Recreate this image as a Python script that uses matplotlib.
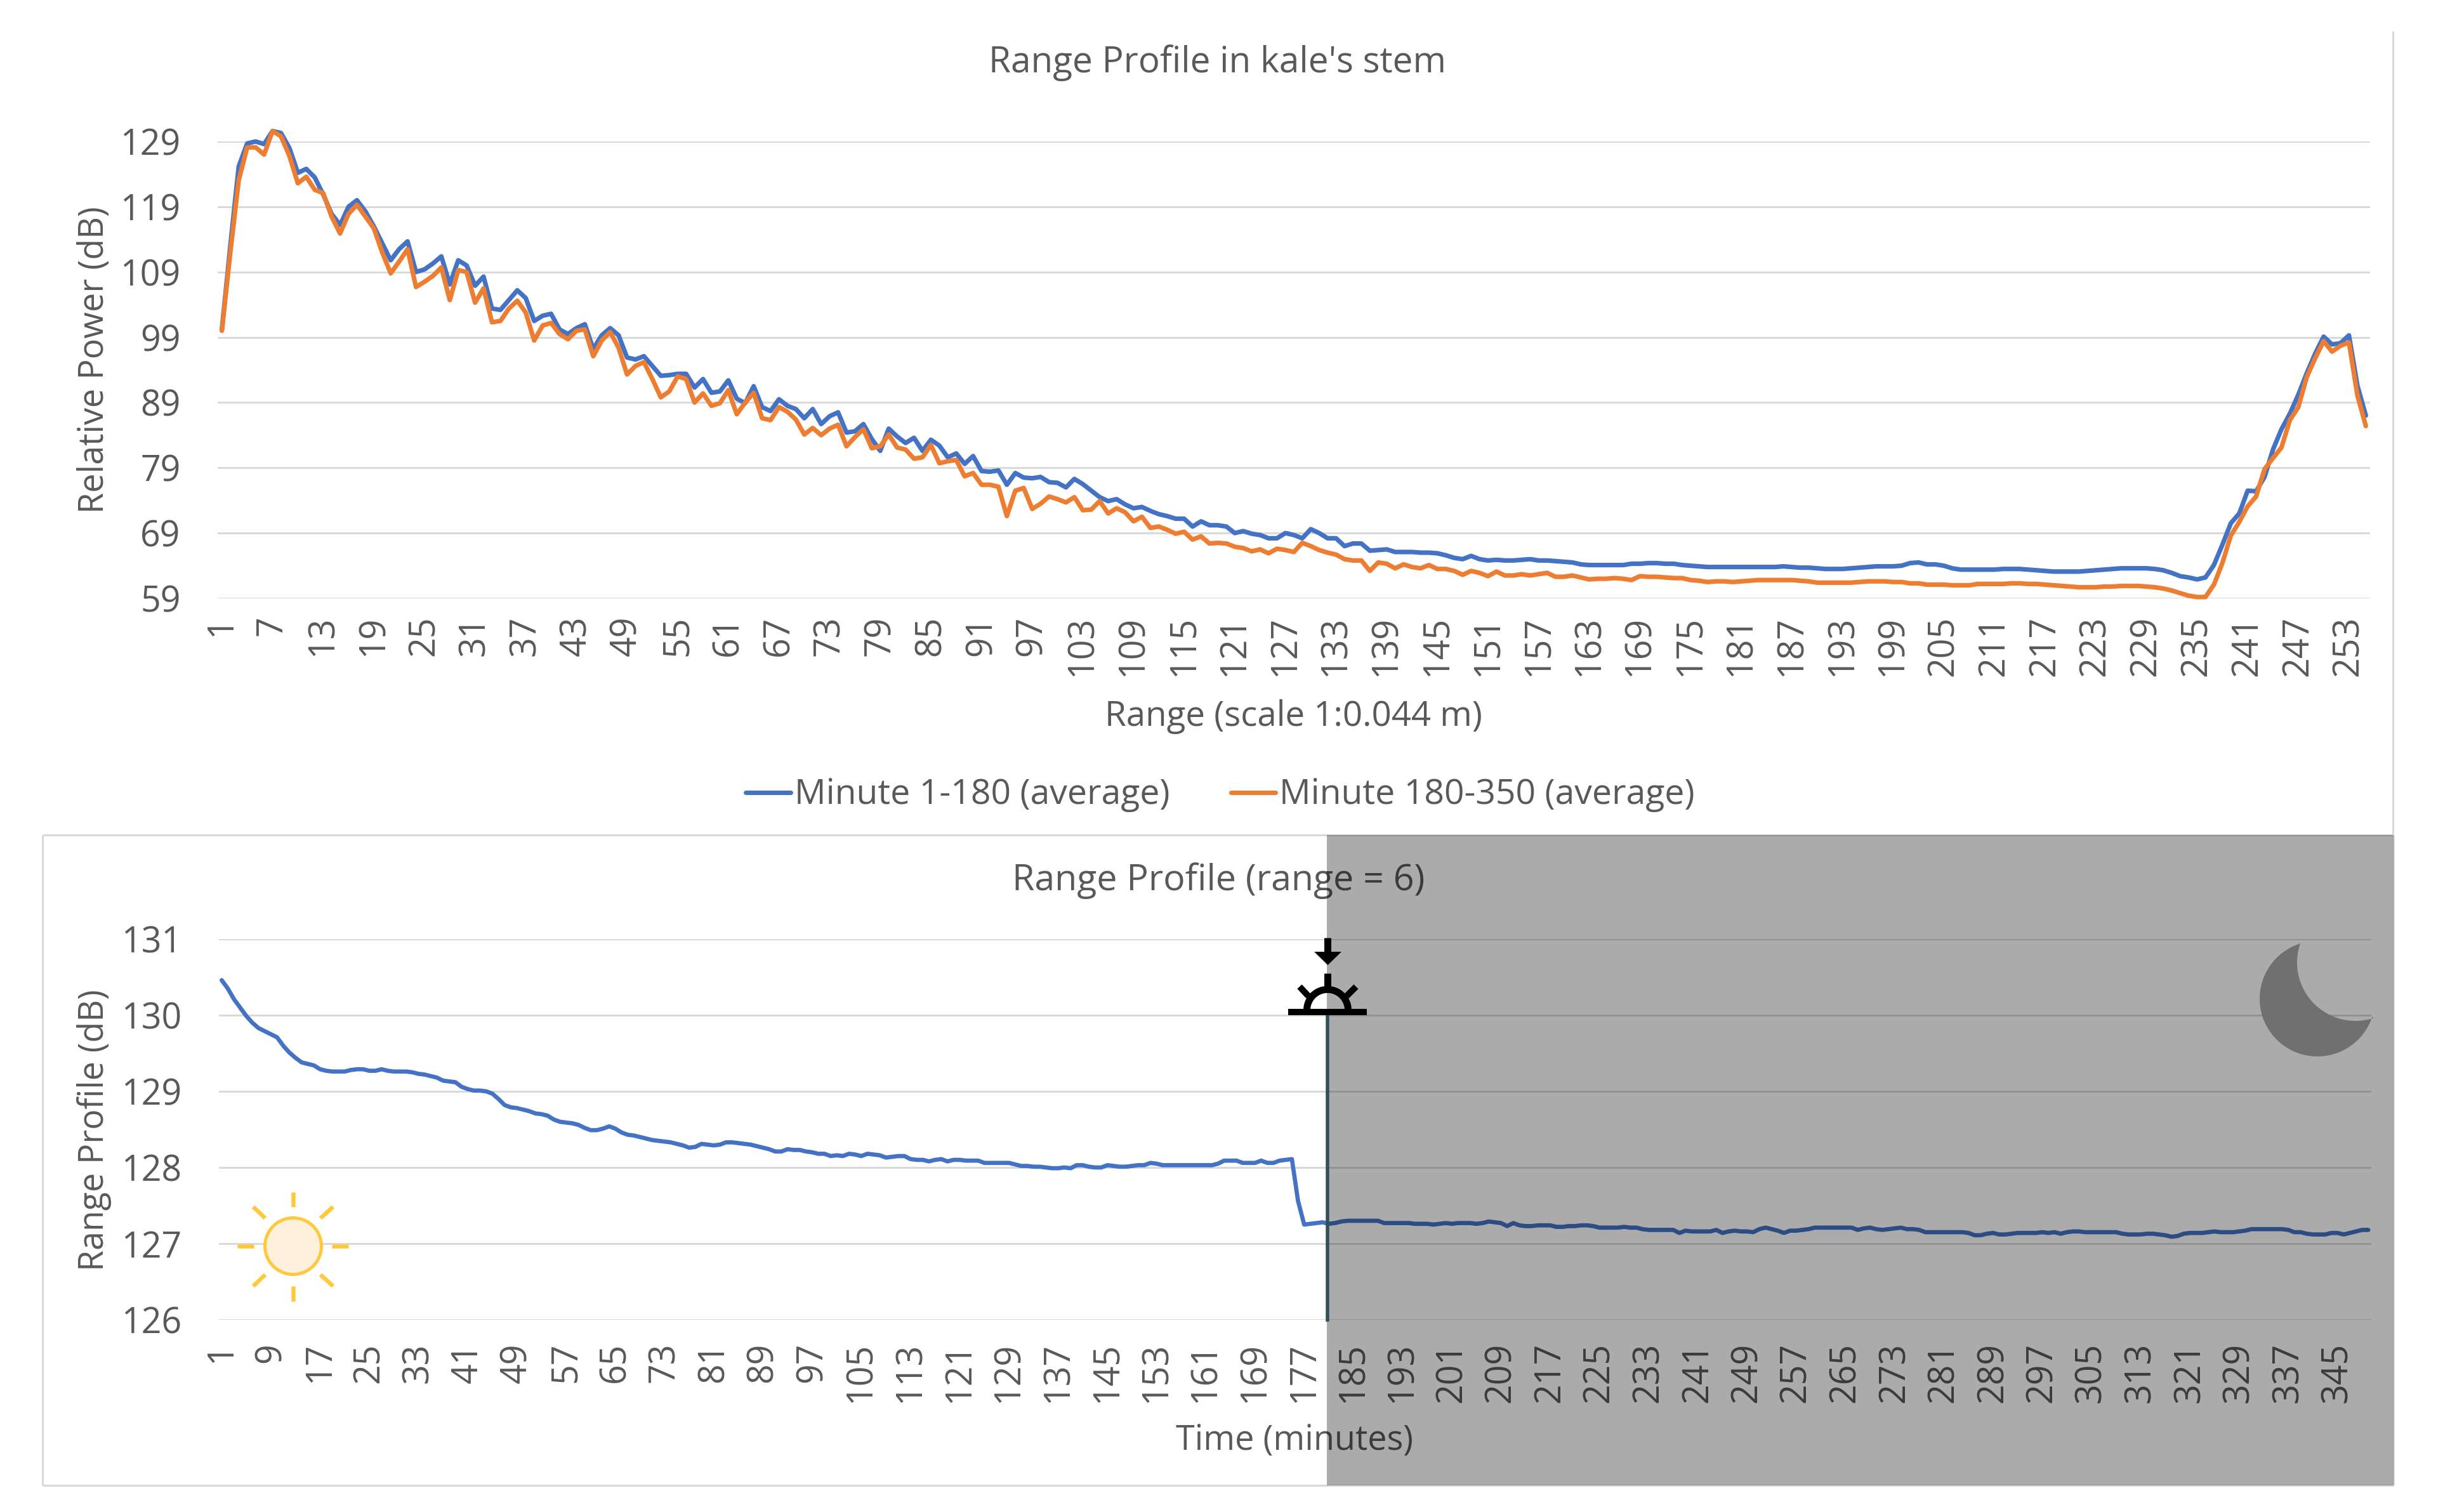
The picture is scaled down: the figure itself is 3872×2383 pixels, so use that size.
import numpy as np
import matplotlib
matplotlib.use("Agg")
import matplotlib.pyplot as plt
from matplotlib.patches import Rectangle, Polygon, Circle
from matplotlib.lines import Line2D
from matplotlib.transforms import Affine2D

plt.rcParams['font.family'] = ['Open Sans', 'DejaVu Sans']

TOP_TITLE = "Range Profile in kale's stem"
TOP_XLABEL = "Range (scale 1:0.044 m)"
TOP_YLABEL = "Relative Power (dB)"
BOTTOM_TITLE = "Range Profile (range = 6)"
BOTTOM_XLABEL = "Time (minutes)"
BOTTOM_YLABEL = "Range Profile (dB)"
SERIES_A = "Minute 1-180 (average)"
SERIES_B = "Minute 180-350 (average)"

top_yticks = [59, 69, 79, 89, 99, 109, 119, 129]
bottom_yticks = [126, 127, 128, 129, 130, 131]

minute_1_180 = [
    100.2, 113, 125.2, 128.7, 129.0, 128.6, 130.6, 130.3, 128, 124.2,
    124.8, 123.5, 120.9, 117.9, 116.2, 119, 120, 118.3, 116, 113.4,
    110.8, 112.5, 113.7, 109, 109.4, 110.3, 111.4, 107.1, 110.8, 110,
    106.9, 108.3, 103.4, 103.2, 104.7, 106.2, 105, 101.5, 102.3, 102.6,
    100.2, 99.5, 100.4, 101, 97.2, 99.3, 100.4, 99.3, 95.9, 95.6,
    96.1, 94.6, 93.1, 93.2, 93.4, 93.4, 91.3, 92.6, 90.5, 90.7,
    92.4, 89.6, 88.9, 91.5, 88.3, 87.7, 89.5, 88.5, 88, 86.6,
    88, 85.7, 86.9, 87.5, 84.4, 84.6, 85.7, 83.4, 81.6, 85,
    83.8, 82.8, 83.6, 81.6, 83.3, 82.4, 80.6, 81.2, 79.6, 80.8,
    78.5, 78.4, 78.6, 76.4, 78.2, 77.5, 77.4, 77.6, 76.8, 76.7,
    76, 77.3, 76.5, 75.5, 74.5, 73.9, 74.2, 73.4, 72.8, 73,
    72.4, 71.9, 71.6, 71.2, 71.2, 70, 70.8, 70.2, 70.2, 70,
    69, 69.3, 68.9, 68.7, 68.2, 68.2, 69, 68.7, 68.2, 69.6,
    69, 68.2, 68.2, 67, 67.4, 67.4, 66.3, 66.4, 66.5, 66.1,
    66.1, 66.1, 66, 66, 65.9, 65.6, 65.2, 65, 65.5, 65,
    64.8, 64.9, 64.8, 64.8, 64.9, 65, 64.8, 64.8, 64.7, 64.6,
    64.5, 64.2, 64.1, 64.1, 64.1, 64.1, 64.1, 64.3, 64.3, 64.4,
    64.4, 64.3, 64.3, 64.1, 64, 63.9, 63.8, 63.8, 63.8, 63.8,
    63.8, 63.8, 63.8, 63.8, 63.8, 63.9, 63.8, 63.7, 63.7, 63.6,
    63.5, 63.5, 63.5, 63.6, 63.7, 63.8, 63.9, 63.9, 63.9, 64,
    64.4, 64.5, 64.2, 64.2, 64, 63.6, 63.4, 63.4, 63.4, 63.4,
    63.4, 63.5, 63.5, 63.5, 63.4, 63.3, 63.2, 63.1, 63.1, 63.1,
    63.1, 63.2, 63.3, 63.4, 63.5, 63.6, 63.6, 63.6, 63.6, 63.5,
    63.3, 62.9, 62.4, 62.2, 61.9, 62.2, 64.1, 67.2, 70.5, 72,
    75.5, 75.4, 77.6, 81.8, 84.9, 87.3, 90.2, 93.5, 96.5, 99.1,
    97.9, 98.1, 99.3, 91.6, 87,
]

minute_180_350 = [
    100, 112, 123.1, 128.1, 128.1, 127, 130.6, 129.8, 126.8, 122.6,
    123.6, 121.6, 121.1, 117.5, 114.9, 117.9, 119.3, 117.5, 115.7, 112,
    108.8, 110.6, 112.5, 106.7, 107.5, 108.4, 109.7, 104.7, 109.3, 109,
    104.3, 106.5, 101.3, 101.5, 103.4, 104.6, 102.8, 98.5, 100.8, 101.2,
    99.5, 98.7, 100, 100.2, 96.1, 98.5, 99.8, 97.4, 93.3, 94.6,
    95.2, 92.6, 89.8, 90.7, 93, 92.6, 89, 90.4, 88.5, 88.9,
    90.9, 87.2, 89, 90.5, 86.6, 86.3, 88.3, 87.6, 86.4, 84.1,
    85.1, 84, 85, 85.6, 82.3, 83.7, 84.9, 82, 82.3, 84.1,
    82.1, 81.8, 80.4, 80.6, 82.5, 79.7, 80, 80.2, 77.7, 78.2,
    76.4, 76.4, 76.1, 71.6, 75.5, 75.9, 72.7, 73.5, 74.6, 74.2,
    73.7, 74.5, 72.5, 72.6, 73.9, 72, 72.8, 72.2, 70.8, 71.5,
    69.8, 70, 69.5, 68.9, 69.2, 68, 68.5, 67.4, 67.5, 67.4,
    66.9, 66.7, 66.2, 66.5, 65.9, 66.6, 66.4, 66.1, 67.5, 67,
    66.4, 66, 65.7, 65, 64.8, 64.8, 63.2, 64.5, 64.3, 63.6,
    64.2, 63.8, 63.6, 64.1, 63.5, 63.5, 63.2, 62.6, 63.2, 62.9,
    62.4, 63.1, 62.5, 62.5, 62.7, 62.5, 62.7, 62.9, 62.3, 62.3,
    62.5, 62.2, 61.9, 62, 62, 62.1, 62, 61.8, 62.4, 62.3,
    62.3, 62.2, 62.1, 62.1, 61.8, 61.7, 61.5, 61.6, 61.6, 61.5,
    61.6, 61.7, 61.8, 61.8, 61.8, 61.8, 61.8, 61.7, 61.6, 61.4,
    61.4, 61.4, 61.4, 61.4, 61.5, 61.6, 61.6, 61.6, 61.5, 61.5,
    61.3, 61.3, 61.1, 61.1, 61.1, 61, 61, 61, 61.2, 61.2,
    61.2, 61.2, 61.3, 61.3, 61.2, 61.2, 61.1, 61, 60.9, 60.8,
    60.7, 60.7, 60.7, 60.8, 60.8, 60.9, 60.9, 60.9, 60.8, 60.7,
    60.5, 60.2, 59.8, 59.4, 59.2, 59.2, 61.1, 64.4, 68.6, 70.7,
    73.1, 74.6, 78.8, 80.5, 82.1, 86.3, 88.3, 92.9, 95.8, 98.4,
    96.8, 97.7, 98.2, 90.1, 85.4,
]

range_6_profile = [
    130.46, 130.35, 130.21, 130.10, 129.99, 129.90, 129.83, 129.79, 129.75, 129.71,
    129.60, 129.51, 129.44, 129.38, 129.36, 129.34, 129.29, 129.27, 129.26, 129.26,
    129.26, 129.28, 129.29, 129.29, 129.27, 129.27, 129.29, 129.27, 129.26, 129.26,
    129.26, 129.25, 129.23, 129.22, 129.20, 129.18, 129.14, 129.13, 129.12, 129.06,
    129.03, 129.01, 129.01, 129.00, 128.97, 128.90, 128.82, 128.79, 128.78, 128.76,
    128.74, 128.71, 128.70, 128.68, 128.63, 128.60, 128.59, 128.58, 128.56, 128.52,
    128.49, 128.49, 128.51, 128.54, 128.51, 128.46, 128.43, 128.42, 128.40, 128.38,
    128.36, 128.35, 128.34, 128.33, 128.31, 128.29, 128.26, 128.27, 128.31, 128.30,
    128.29, 128.30, 128.33, 128.33, 128.32, 128.31, 128.30, 128.28, 128.26, 128.24,
    128.21, 128.21, 128.24, 128.23, 128.23, 128.21, 128.20, 128.18, 128.18, 128.15,
    128.16, 128.15, 128.18, 128.17, 128.15, 128.18, 128.17, 128.16, 128.13, 128.14,
    128.15, 128.15, 128.11, 128.10, 128.10, 128.08, 128.10, 128.11, 128.08, 128.10,
    128.10, 128.09, 128.09, 128.09, 128.06, 128.06, 128.06, 128.06, 128.06, 128.04,
    128.02, 128.02, 128.01, 128.01, 128.00, 127.99, 127.99, 128.00, 127.99, 128.03,
    128.03, 128.01, 128.00, 128.00, 128.03, 128.02, 128.01, 128.01, 128.02, 128.03,
    128.03, 128.06, 128.05, 128.03, 128.03, 128.03, 128.03, 128.03, 128.03, 128.03,
    128.03, 128.03, 128.05, 128.09, 128.09, 128.09, 128.06, 128.06, 128.06, 128.09,
    128.06, 128.06, 128.09, 128.10, 128.11, 127.56, 127.25, 127.26, 127.27, 127.28,
    127.26, 127.27, 127.29, 127.30, 127.30, 127.30, 127.30, 127.30, 127.30, 127.27,
    127.27, 127.27, 127.27, 127.27, 127.26, 127.26, 127.26, 127.25, 127.26, 127.27,
    127.26, 127.27, 127.27, 127.27, 127.26, 127.27, 127.29, 127.28, 127.27, 127.23,
    127.27, 127.24, 127.23, 127.23, 127.24, 127.24, 127.24, 127.22, 127.22, 127.23,
    127.23, 127.24, 127.24, 127.23, 127.21, 127.21, 127.21, 127.21, 127.22, 127.21,
    127.21, 127.19, 127.18, 127.18, 127.18, 127.18, 127.18, 127.14, 127.17, 127.16,
    127.16, 127.16, 127.16, 127.18, 127.14, 127.16, 127.17, 127.16, 127.16, 127.15,
    127.19, 127.21, 127.19, 127.17, 127.14, 127.17, 127.17, 127.18, 127.19, 127.21,
    127.21, 127.21, 127.21, 127.21, 127.21, 127.21, 127.18, 127.20, 127.21, 127.19,
    127.18, 127.19, 127.20, 127.21, 127.19, 127.19, 127.18, 127.15, 127.15, 127.15,
    127.15, 127.15, 127.15, 127.15, 127.14, 127.11, 127.11, 127.13, 127.14, 127.12,
    127.12, 127.13, 127.14, 127.14, 127.14, 127.14, 127.15, 127.14, 127.15, 127.13,
    127.15, 127.16, 127.16, 127.15, 127.15, 127.15, 127.15, 127.15, 127.15, 127.13,
    127.12, 127.12, 127.12, 127.13, 127.13, 127.12, 127.11, 127.09, 127.10, 127.13,
    127.14, 127.14, 127.14, 127.15, 127.16, 127.15, 127.15, 127.15, 127.16, 127.17,
    127.19, 127.19, 127.19, 127.19, 127.19, 127.19, 127.18, 127.15, 127.15, 127.13,
    127.12, 127.12, 127.12, 127.14, 127.14, 127.12, 127.14, 127.16, 127.18, 127.18,
]

W, H = 3872, 2383
BLUE, ORANGE, GRID, TEXT = '#4472C4', '#ED7D31', '#D9D9D9', '#595959'
TICK_FS, LEG_FS = 40, 39.8

fig = plt.figure(figsize=(W / 100, H / 100), dpi=100, facecolor='white')
PX = Affine2D().scale(1 / W, -1 / H).translate(0, 1) + fig.transFigure


def axes_px(x0, y0, x1, y1):
    return fig.add_axes([x0 / W, 1 - y1 / H, (x1 - x0) / W, (y1 - y0) / H], facecolor='none')


def style(ax, yticks, xticks, xlim, pad):
    ax.set_xlim(*xlim)
    ax.set_ylim(yticks[0], yticks[-1])
    ax.set_yticks(yticks)
    ax.set_xticks(xticks)
    ax.set_xticklabels([str(v) for v in xticks], rotation=90)
    ax.tick_params(axis='y', length=0, pad=42, labelsize=TICK_FS, labelcolor=TEXT)
    ax.tick_params(axis='x', length=0, pad=pad, labelsize=TICK_FS, labelcolor=TEXT)
    for s in ax.spines.values():
        s.set_visible(False)
    ax.grid(axis='y', color=GRID, lw=2.1)
    ax.set_axisbelow(True)


# Top chart
ax1 = axes_px(343, 223, 3735, 943)
x_top = np.arange(1, len(minute_1_180) + 1)
style(ax1, top_yticks, list(range(1, 254, 6)), (0.5, 255.5), 20)
ax1.plot(x_top, minute_1_180, color=BLUE, lw=5.2, clip_on=False, solid_joinstyle='round', solid_capstyle='round')
ax1.plot(x_top, minute_180_350, color=ORANGE, lw=5.2, clip_on=False, solid_joinstyle='round', solid_capstyle='round')

# Bottom chart
ax2 = axes_px(344.5, 1480, 3737, 2080)
x_bot = np.arange(1, len(range_6_profile) + 1)
style(ax2, bottom_yticks, list(range(1, 346, 8)), (0.5, 350.5), 26)
ax2.plot(x_bot, range_6_profile, color=BLUE, lw=4.8, clip_on=False, solid_joinstyle='round', solid_capstyle='round')


def label(x, y, s, fs, rot=0, color=TEXT):
    fig.text(x / W, 1 - y / H, s, fontsize=fs, color=color, rotation=rot, ha='center', va='center')


label(1918, 99, TOP_TITLE, 40.8)
label(2038, 1130, TOP_XLABEL, 39.3)
label(148, 567, TOP_YLABEL, 38.8, rot=90)
label(1920, 1388, BOTTOM_TITLE, 41.2)
label(2040, 2270, BOTTOM_XLABEL, 38.8)
label(149, 1781, BOTTOM_YLABEL, 38.6, rot=90)


def line(xs, ys, color, px, z=5, cap='butt'):
    fig.add_artist(Line2D(xs, ys, color=color, lw=px * 0.72, transform=PX, zorder=z, solid_capstyle=cap))


# Legend
line([1175, 1246], [1249, 1249], BLUE, 7, cap='round')
line([1940, 2010], [1249, 1249], ORANGE, 7, cap='round')
fig.text(1252 / W, 1 - 1252 / H, SERIES_A, fontsize=LEG_FS, color=TEXT, ha='left', va='center')
fig.text(2016 / W, 1 - 1252 / H, SERIES_B, fontsize=LEG_FS, color=TEXT, ha='left', va='center')

# Chart frames
line([3771, 3771], [49, 1316], GRID, 3)
line([67, 3772], [1316, 1316], GRID, 3)
line([67, 67], [1316, 2341], GRID, 3)
line([67, 3772], [2341, 2341], GRID, 3)
line([3772, 3772], [1316, 2341], GRID, 3)

# Night overlay
fig.add_artist(Rectangle((2091, 1316), 3772 - 2091, 2341 - 1316, facecolor='black', alpha=0.33,
                         edgecolor='none', transform=PX, zorder=20))

# Sun icon
SUN = '#FFC83D'
fig.add_artist(Circle((462, 1964), 44.5, facecolor='#FDF1DC', edgecolor=SUN, lw=3.6, transform=PX, zorder=6))
for (a, b, c, d) in [(462, 1879, 462, 1902), (462, 2027, 462, 2051), (374, 1964, 400, 1964),
                     (523, 1964, 549, 1964), (399, 1902, 418, 1920), (505, 1920, 525, 1902),
                     (399, 2027, 418, 2009), (505, 2009, 525, 2027)]:
    line([a, c], [b, d], SUN, 6.5, z=6)

# Sunset marker
line([2092, 2092], [1600, 2083], '#31515A', 5.5, z=21)
arc_t = np.linspace(np.pi, 2 * np.pi, 40)
r_out, r_in = 38, 27
arc = np.r_[np.c_[2092 + r_out * np.cos(arc_t), 1592 + r_out * np.sin(arc_t)],
            np.c_[2092 + r_in * np.cos(arc_t[::-1]), 1592 + r_in * np.sin(arc_t[::-1])]]
fig.add_artist(Polygon(arc, closed=True, facecolor='black', edgecolor='none', transform=PX, zorder=22))
line([2030, 2154], [1595, 1595], 'black', 10, z=22)
line([2092, 2092], [1534, 1558], 'black', 11, z=22)
line([2062, 2048], [1570, 1555], 'black', 10, z=22)
line([2122, 2137], [1570, 1555], 'black', 10, z=22)
line([2092, 2092], [1478, 1502], 'black', 11, z=22)
fig.add_artist(Polygon([(2071, 1500), (2114, 1500), (2092.5, 1521)], closed=True, facecolor='black',
                       edgecolor='none', transform=PX, zorder=22))

# Moon icon
a1, a2 = np.arctan2(1485 - 1574, 3623 - 3652), np.arctan2(1602 - 1574, 3739 - 3652)
outer_t = np.linspace(a1, a2 - 2 * np.pi, 80)
outer = np.c_[3652 + 91 * np.cos(outer_t), 1574 + 91 * np.sin(outer_t)]
b1, b2 = np.arctan2(1602 - 1517, 3739 - 3712), np.arctan2(1485 - 1517, 3623 - 3712)
inner_t = np.linspace(b1, b2 + 2 * np.pi, 60)
inner = np.c_[3712 + 92 * np.cos(inner_t), 1517 + 92 * np.sin(inner_t)]
fig.add_artist(Polygon(np.r_[outer, inner], closed=True, facecolor='#707070', edgecolor='none',
                       transform=PX, zorder=22))

fig.savefig('out.png', dpi=100, facecolor='white')
